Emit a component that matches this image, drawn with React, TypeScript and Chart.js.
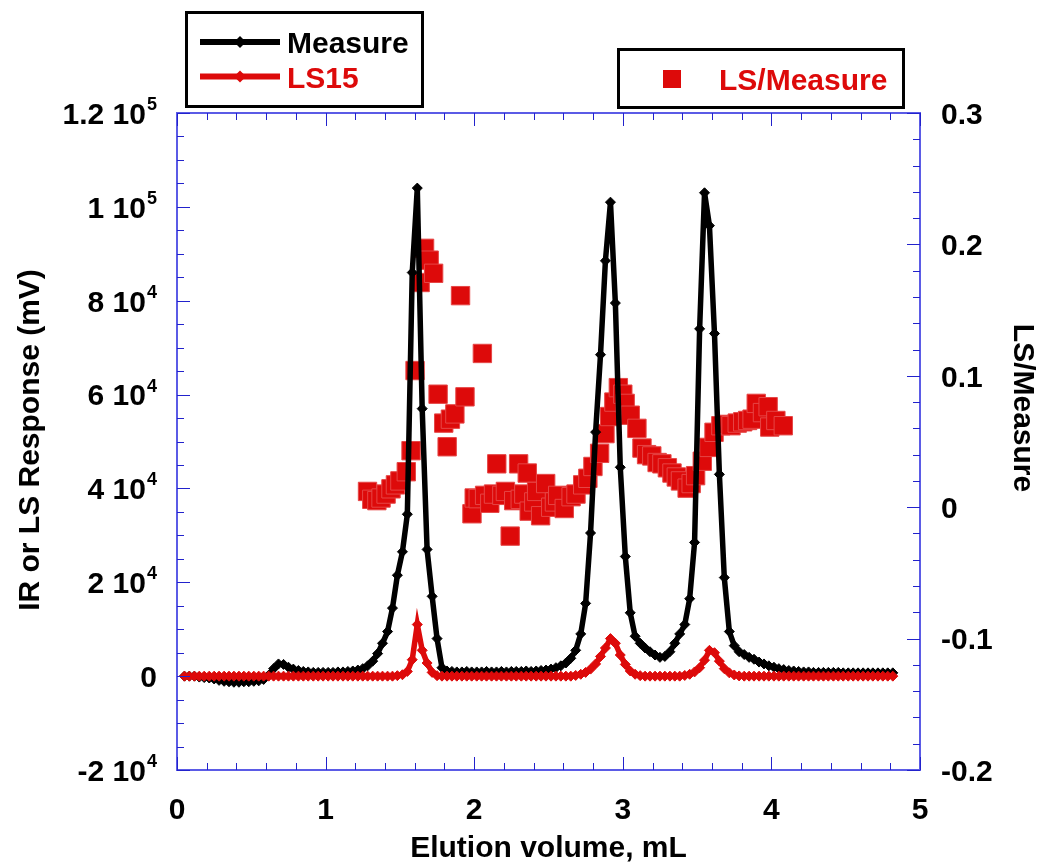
import React, { useEffect, useRef } from "react";
import { Chart, registerables } from "chart.js";

Chart.register(...registerables);

// Elution volumes (mL) of the sampled points
const volumes = [
  0.050, 0.083, 0.117, 0.150, 0.183, 0.217, 0.250, 0.283, 0.317, 0.350,
  0.383, 0.417, 0.450, 0.483, 0.517, 0.550, 0.583, 0.617, 0.650, 0.683,
  0.717, 0.750, 0.783, 0.817, 0.850, 0.883, 0.917, 0.950, 0.983, 1.017,
  1.050, 1.083, 1.117, 1.150, 1.183, 1.217, 1.250, 1.283, 1.317, 1.350,
  1.383, 1.417, 1.450, 1.483, 1.517, 1.550, 1.583, 1.617, 1.650, 1.683,
  1.717, 1.750, 1.783, 1.817, 1.850, 1.883, 1.917, 1.950, 1.983, 2.017,
  2.050, 2.083, 2.117, 2.150, 2.183, 2.217, 2.250, 2.283, 2.317, 2.350,
  2.383, 2.417, 2.450, 2.483, 2.517, 2.550, 2.583, 2.617, 2.650, 2.683,
  2.717, 2.750, 2.783, 2.817, 2.850, 2.883, 2.917, 2.950, 2.983, 3.017,
  3.050, 3.083, 3.117, 3.150, 3.183, 3.217, 3.250, 3.283, 3.317, 3.350,
  3.383, 3.417, 3.450, 3.483, 3.517, 3.550, 3.583, 3.617, 3.650, 3.683,
  3.717, 3.750, 3.783, 3.817, 3.850, 3.883, 3.917, 3.950, 3.983, 4.017,
  4.050, 4.083, 4.117, 4.150, 4.183, 4.217, 4.250, 4.283, 4.317, 4.350,
  4.383, 4.417, 4.450, 4.483, 4.517, 4.550, 4.583, 4.617, 4.650, 4.683,
  4.717, 4.750, 4.783, 4.817,
];

// IR "Measure" response (mV)
const measureValues = [
  0, 0, 0, -200, -300, -400, -600, -900, -1100, -1200,
  -1300, -1300, -1200, -1200, -1100, -1000, -700, 200, 1600, 2600,
  2500, 1900, 1500, 1200, 1000, 900, 800, 800, 800, 800,
  800, 900, 900, 1000, 1100, 1300, 1600, 2200, 3200, 4800,
  7000, 9500, 14500, 21500, 26500, 34500, 86000, 104000, 57000, 27000,
  17000, 8000, 1800, 1100, 1000, 900, 900, 1000, 900, 900,
  900, 1000, 900, 900, 1000, 900, 1000, 1000, 1000, 1100,
  1000, 1100, 1200, 1300, 1500, 1800, 2200, 2800, 3800, 5500,
  9000, 15500, 30500, 52000, 68500, 88500, 101000, 79500, 44500, 25500,
  13500, 8500, 7000, 6000, 5200, 4500, 4000, 4200, 5200, 7000,
  9000, 11000, 16500, 28500, 74000, 103000, 96000, 73000, 43000, 21000,
  9500, 6500, 5200, 4600, 4000, 3600, 3000, 2600, 2200, 1900,
  1600, 1400, 1200, 1100, 1000, 900, 900, 800, 800, 800,
  800, 800, 800, 700, 700, 700, 700, 700, 700, 700,
  700, 700, 700, 700,
];

// LS15 light-scattering response (mV)
const ls15Values = [
  0, 0, 0, 0, 0, 0, 0, 0, 0, 0,
  0, 0, 0, 0, 0, 0, 0, 0, 0, 0,
  0, 0, 0, 0, 0, 0, 0, 0, 0, 0,
  0, 0, 0, 0, 0, 0, 0, 0, 0, 0,
  0, 0, 0, 100, 300, 1000, 3500, 11000, 5500, 2800,
  800, 100, 0, 0, 0, 0, 0, 0, 0, 0,
  0, 0, 0, 0, 0, 0, 0, 0, 0, 0,
  0, 0, 0, 0, 0, 0, 0, 0, 0, 150,
  400, 800, 1500, 2600, 4200, 6000, 8000, 7000, 4500, 2500,
  1100, 400, 100, 0, 0, 0, 0, 0, 0, 0,
  0, 150, 400, 900, 1800, 3400, 5500, 5000, 3200, 1600,
  700, 250, 50, 0, 0, 0, 0, 0, 0, 0,
  0, 0, 0, 0, 0, 0, 0, 0, 0, 0,
  0, 0, 0, 0, 0, 0, 0, 0, 0, 0,
  0, 0, 0, 0,
];

// LS/Measure ratio (right axis)
const ratioVolumes = [
  1.282, 1.311, 1.345, 1.373, 1.407, 1.440, 1.470, 1.500, 1.543, 1.575,
  1.602, 1.636, 1.666, 1.697, 1.727, 1.757, 1.795, 1.818, 1.840, 1.870,
  1.908, 1.938, 1.985, 2.000, 2.027, 2.055, 2.070, 2.105, 2.130, 2.152,
  2.186, 2.210, 2.242, 2.266, 2.299, 2.310, 2.334, 2.357, 2.370, 2.401,
  2.420, 2.447, 2.481, 2.515, 2.540, 2.562, 2.606, 2.652, 2.685, 2.730,
  2.765, 2.799, 2.844, 2.880, 2.912, 2.940, 2.970, 3.000, 3.016, 3.050,
  3.095, 3.129, 3.160, 3.195, 3.231, 3.263, 3.300, 3.331, 3.360, 3.388,
  3.433, 3.460, 3.490, 3.535, 3.580, 3.614, 3.660, 3.700, 3.728, 3.770,
  3.807, 3.840, 3.870, 3.898, 3.940, 3.978, 3.989, 4.030, 4.080,
];
const ratioValues = [
  0.012, 0.006, 0.005, 0.007, 0.010, 0.014, 0.017, 0.020, 0.027, 0.043,
  0.104, 0.171, 0.197, 0.188, 0.178, 0.086, 0.064, 0.046, 0.067, 0.071,
  0.161, 0.084, -0.005, 0.007, 0.0065, 0.117, 0.009, 0.003, 0.010, 0.033,
  0.009, 0.012, -0.022, 0.005, 0.033, 0.006, 0.010, 0.026, -0.003, 0.004,
  0.012, -0.0065, 0.018, 0.000, 0.004, 0.009, -0.001, 0.008, 0.010, 0.017,
  0.022, 0.031, 0.041, 0.056, 0.069, 0.080, 0.091, 0.086, 0.079, 0.070,
  0.060, 0.045, 0.040, 0.039, 0.034, 0.033, 0.030, 0.026, 0.023, 0.020,
  0.0145, 0.018, 0.024, 0.035, 0.0455, 0.057, 0.062, 0.063, 0.062, 0.064,
  0.065, 0.066, 0.067, 0.079, 0.072, 0.0765, 0.061, 0.066, 0.062,
];

// Axis ticks
const xTickValues = [0, 1, 2, 3, 4, 5];
const xTickLabels = ["0", "1", "2", "3", "4", "5"];
const leftTickValues = [-20000, 0, 20000, 40000, 60000, 80000, 100000, 120000];
const leftTickLabels = ["-2 10^4", "0", "2 10^4", "4 10^4", "6 10^4", "8 10^4", "1 10^5", "1.2 10^5"];
const rightTickValues = [-0.2, -0.1, 0, 0.1, 0.2, 0.3];
const rightTickLabels = ["-0.2", "-0.1", "0", "0.1", "0.2", "0.3"];
const xMinorStep = 0.2;
const leftMinorStep = 5000;
const rightMinorStep = 0.02;

const RED = "#dd0a0a";
const FONT_FAMILY = "'Liberation Sans', Arial, Helvetica, sans-serif";
const FONT = `bold 30px ${FONT_FAMILY}`;
const SUP_FONT = `bold 18px ${FONT_FAMILY}`;
const CAP = 10.8; // half cap-height of the 30px font

const decorPlugin = {
  id: "decor",
  afterDraw(chart: any) {
    const { ctx, chartArea: a, scales } = chart;
    const sx = scales.x;
    const sy = scales.y;
    const sy2 = scales.y2;
    ctx.save();

    // plot frame
    ctx.strokeStyle = "#5b5be6";
    ctx.lineWidth = 2;
    ctx.strokeRect(a.left, a.top, a.right - a.left, a.bottom - a.top);

    // ticks (inside)
    ctx.strokeStyle = "#2222cc";
    ctx.lineWidth = 1;
    const MAJ = 13;
    const MIN = 7;
    const isMajor = (v: number, step: number) => Math.abs(v / step - Math.round(v / step)) < 1e-6;
    ctx.beginPath();
    const nx = Math.round((sx.max - sx.min) / xMinorStep);
    for (let i = 0; i <= nx; i++) {
      const v = sx.min + i * xMinorStep;
      const px = Math.round(sx.getPixelForValue(v)) + 0.5;
      const len = isMajor(v, 1) ? MAJ : MIN;
      ctx.moveTo(px, a.bottom);
      ctx.lineTo(px, a.bottom - len);
      ctx.moveTo(px, a.top);
      ctx.lineTo(px, a.top + len);
    }
    const ny = Math.round((sy.max - sy.min) / leftMinorStep);
    for (let i = 0; i <= ny; i++) {
      const v = sy.min + i * leftMinorStep;
      const py = Math.round(sy.getPixelForValue(v)) + 0.5;
      const len = isMajor(v, 20000) ? MAJ : MIN;
      ctx.moveTo(a.left, py);
      ctx.lineTo(a.left + len, py);
    }
    const ny2 = Math.round((sy2.max - sy2.min) / rightMinorStep);
    for (let i = 0; i <= ny2; i++) {
      const v = sy2.min + i * rightMinorStep;
      const py = Math.round(sy2.getPixelForValue(v)) + 0.5;
      const len = isMajor(v, 0.1) ? MAJ : MIN;
      ctx.moveTo(a.right, py);
      ctx.lineTo(a.right - len, py);
    }
    ctx.stroke();

    // tick labels
    ctx.fillStyle = "#000";
    ctx.textBaseline = "alphabetic";
    ctx.font = FONT;
    ctx.textAlign = "center";
    xTickValues.forEach((v, i) => {
      ctx.fillText(xTickLabels[i], sx.getPixelForValue(v), 808 + CAP);
    });
    ctx.textAlign = "left";
    rightTickValues.forEach((v, i) => {
      ctx.fillText(rightTickLabels[i], 941, sy2.getPixelForValue(v) + CAP);
    });
    const leftEdge = 157;
    leftTickValues.forEach((v, i) => {
      const py = sy.getPixelForValue(v);
      const parts = leftTickLabels[i].split("^");
      ctx.font = FONT;
      const wBase = ctx.measureText(parts[0]).width;
      let wExp = 0;
      if (parts[1]) {
        ctx.font = SUP_FONT;
        wExp = ctx.measureText(parts[1]).width + 1;
      }
      const startX = leftEdge - wBase - wExp;
      ctx.font = FONT;
      ctx.textAlign = "left";
      ctx.fillText(parts[0], startX, py + CAP);
      if (parts[1]) {
        ctx.font = SUP_FONT;
        ctx.fillText(parts[1], startX + wBase + 1, py - 3);
      }
    });

    // axis titles
    ctx.font = FONT;
    ctx.textAlign = "center";
    ctx.fillText("Elution volume, mL", (a.left + a.right) / 2, 846 + CAP);
    ctx.save();
    ctx.translate(28 + CAP, 440);
    ctx.rotate(-Math.PI / 2);
    ctx.fillText("IR or LS Response (mV)", 0, 0);
    ctx.restore();
    ctx.save();
    ctx.translate(1025 - CAP, 408);
    ctx.rotate(Math.PI / 2);
    ctx.fillText("LS/Measure", 0, 0);
    ctx.restore();

    // legend 1
    ctx.lineWidth = 3;
    ctx.strokeStyle = "#000";
    ctx.strokeRect(186.5, 12.5, 236, 94);
    const drawLegLine = (y: number, color: string) => {
      ctx.strokeStyle = color;
      ctx.lineWidth = 6;
      ctx.beginPath();
      ctx.moveTo(200, y);
      ctx.lineTo(280, y);
      ctx.stroke();
      ctx.fillStyle = color;
      ctx.beginPath();
      ctx.moveTo(240, y - 6);
      ctx.lineTo(246, y);
      ctx.lineTo(240, y + 6);
      ctx.lineTo(234, y);
      ctx.closePath();
      ctx.fill();
    };
    drawLegLine(42, "#000");
    drawLegLine(76.5, RED);
    ctx.textAlign = "left";
    ctx.font = FONT;
    ctx.fillStyle = "#000";
    ctx.fillText("Measure", 287, 42 + CAP);
    ctx.fillStyle = RED;
    ctx.fillText("LS15", 287, 77 + CAP);

    // legend 2
    ctx.lineWidth = 3;
    ctx.strokeStyle = "#000";
    ctx.strokeRect(618.5, 49.5, 285, 58);
    ctx.fillStyle = RED;
    ctx.fillRect(663, 70, 18, 18);
    ctx.fillText("LS/Measure", 719, 79 + CAP);

    ctx.restore();
  },
};

export default function App() {
  const canvasRef = useRef<HTMLCanvasElement | null>(null);

  useEffect(() => {
    const canvas = canvasRef.current;
    if (!canvas) return;
    const measureData = volumes.map((v, i) => ({ x: v, y: measureValues[i] }));
    const lsData = volumes.map((v, i) => ({ x: v, y: ls15Values[i] }));
    const ratioData = ratioVolumes.map((v, i) => ({ x: v, y: ratioValues[i] }));

    const chart = new Chart(canvas, {
      type: "scatter",
      data: {
        datasets: [
          {
            label: "LS15",
            data: lsData,
            xAxisID: "x",
            yAxisID: "y",
            showLine: true,
            borderColor: RED,
            backgroundColor: RED,
            borderWidth: 5.5,
            pointStyle: "rectRot",
            pointRadius: 5,
            pointBorderWidth: 1,
            pointBackgroundColor: RED,
            pointBorderColor: RED,
            tension: 0,
            order: 0,
          },
          {
            label: "Measure",
            data: measureData,
            xAxisID: "x",
            yAxisID: "y",
            showLine: true,
            borderColor: "#000",
            backgroundColor: "#000",
            borderWidth: 5.5,
            pointStyle: "rectRot",
            pointRadius: 5,
            pointBorderWidth: 1,
            pointBackgroundColor: "#000",
            pointBorderColor: "#000",
            tension: 0,
            order: 1,
          },
          {
            label: "LS/Measure",
            data: ratioData,
            xAxisID: "x",
            yAxisID: "y2",
            showLine: false,
            pointStyle: "rect",
            pointRadius: 13,
            pointBackgroundColor: RED,
            pointBorderColor: "rgba(230,70,70,1)",
            pointBorderWidth: 1,
            order: 2,
          },
        ],
      },
      options: {
        responsive: false,
        animation: false,
        maintainAspectRatio: false,
        layout: { padding: { left: 177, right: 121, top: 113, bottom: 92 } },
        plugins: { legend: { display: false }, tooltip: { enabled: false } },
        events: [],
        scales: {
          x: { type: "linear", display: false, min: 0, max: 5 },
          y: { type: "linear", display: false, min: -20000, max: 120000 },
          y2: { type: "linear", display: false, min: -0.2, max: 0.3 },
        },
      },
      plugins: [decorPlugin],
    });
    return () => chart.destroy();
  }, []);

  return (
    <div style={{ position: "absolute", left: 0, top: 0, width: 1041, height: 862, background: "#fff" }}>
      <canvas ref={canvasRef} width={1041} height={862} style={{ display: "block" }} />
    </div>
  );
}
